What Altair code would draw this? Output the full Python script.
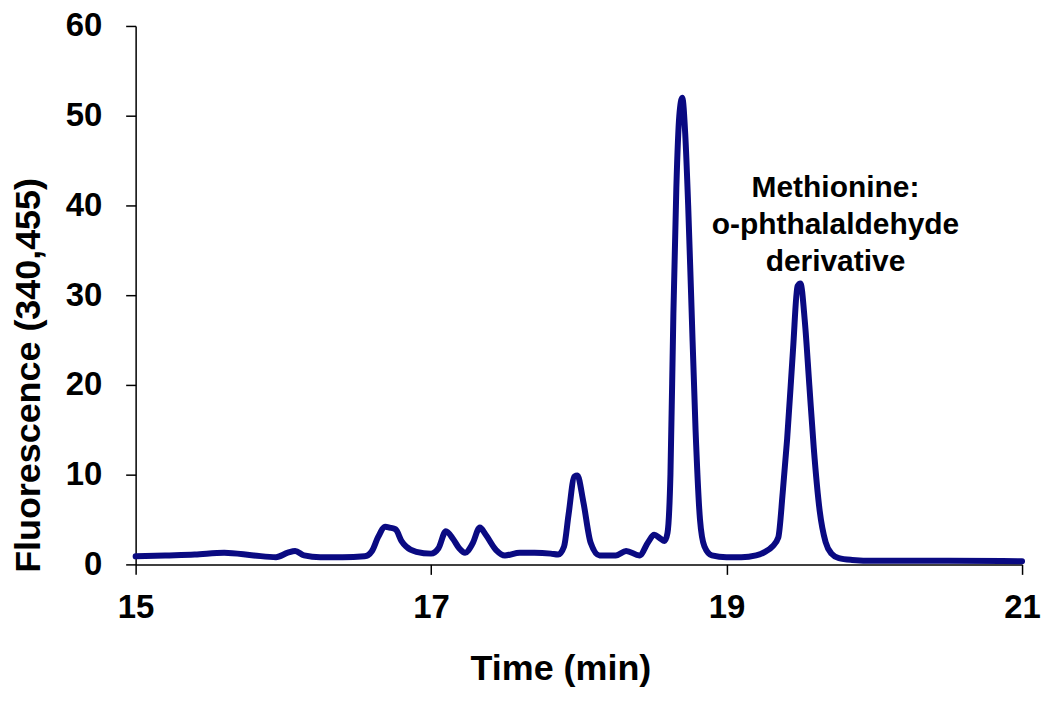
import altair as alt
import pandas as pd

time_min = [15.00, 15.20, 15.40, 15.60, 15.80, 15.95, 16.03, 16.08, 16.14, 16.25,
            16.40, 16.55, 16.60, 16.64, 16.69, 16.72, 16.76, 16.80, 16.83, 16.90,
            17.00, 17.05, 17.10, 17.15, 17.19, 17.23, 17.28, 17.33, 17.37, 17.44,
            17.50, 17.60, 17.70, 17.81, 17.86, 17.90, 17.93, 17.97, 17.99, 18.03,
            18.08, 18.14, 18.25, 18.32, 18.41, 18.47, 18.51, 18.55, 18.58, 18.60,
            18.62, 18.64, 18.66, 18.68, 18.70, 18.72, 18.74, 18.76, 18.79, 18.82,
            18.85, 18.90, 19.00, 19.10, 19.20, 19.26, 19.31, 19.35, 19.38, 19.41,
            19.45, 19.48, 19.50, 19.53, 19.56, 19.59, 19.63, 19.67, 19.71, 19.76,
            19.85, 20.00, 20.50, 21.00]

fluorescence = [0.9, 1.0, 1.1, 1.3, 1.0, 0.8, 1.3, 1.5, 1.0, 0.8,
                0.8, 0.9, 1.5, 3.0, 4.2, 4.1, 3.9, 2.6, 2.0, 1.4,
                1.2, 1.8, 3.7, 2.8, 1.8, 1.3, 2.3, 4.1, 3.3, 1.6,
                1.0, 1.3, 1.3, 1.2, 1.1, 2.0, 5.5, 9.8, 9.9, 7.0,
                2.4, 1.0, 1.0, 1.5, 1.0, 2.5, 3.3, 2.9, 2.6, 3.5,
                10.0, 28.0, 42.0, 50.0, 52.0, 48.0, 40.0, 30.0, 15.0, 5.0,
                2.0, 1.0, 0.8, 0.8, 1.0, 1.4, 2.0, 3.0, 8.0, 14.0,
                24.0, 31.0, 31.3, 27.0, 20.0, 13.0, 6.0, 2.5, 1.2, 0.7,
                0.5, 0.4, 0.4, 0.35]

x_ticks = [15, 17, 19, 21]
y_ticks = [0, 10, 20, 30, 40, 50, 60]

annot_lines = ["Methionine:", "o-phthalaldehyde", "derivative"]
annot_x = [19.737, 19.737, 19.737]
annot_y = [40.9, 36.8, 32.7]

df = pd.DataFrame({"time": time_min, "fl": fluorescence})
ann = pd.DataFrame({"label": annot_lines, "time": annot_x, "fl": annot_y})

FONT = "Liberation Sans"

x_enc = alt.X(
    "time:Q",
    scale=alt.Scale(domain=[15, 21], nice=False, zero=False),
    axis=alt.Axis(
        values=x_ticks, format="d", grid=False,
        title="Time (min)", titleFont=FONT, titleFontSize=36, titleFontWeight="bold",
        titleColor="black", titleX=426, titleY=115, titleBaseline="alphabetic",
        titleAlign="center",
        labelFont=FONT, labelFontSize=33, labelFontWeight="bold", labelColor="black",
        labelPadding=17, tickSize=10, tickColor="black", tickWidth=1.5,
        domainColor="black", domainWidth=1.5, labelFlush=False,
    ),
)
y_enc = alt.Y(
    "fl:Q",
    scale=alt.Scale(domain=[0, 60], nice=False),
    axis=alt.Axis(
        values=y_ticks, grid=False,
        title="Fluorescence (340,455)", titleFont=FONT, titleFontSize=36,
        titleFontWeight="bold", titleColor="black", titleX=-107, titleY=350,
        titleBaseline="middle", titleAlign="center", titleAngle=270,
        labelFont=FONT, labelFontSize=33, labelFontWeight="bold", labelColor="black",
        labelPadding=24, tickSize=10, tickColor="black", tickWidth=1.5,
        domainColor="black", domainWidth=1.5, labelFlush=False,
    ),
)

line = alt.Chart(df).mark_line(
    color="#0a0a82", strokeWidth=6, interpolate="monotone", strokeJoin="round", strokeCap="round"
).encode(x=x_enc, y=y_enc)

text = alt.Chart(ann).mark_text(
    font=FONT, fontSize=30, fontWeight="bold", color="black",
    align="center", baseline="alphabetic"
).encode(x=alt.X("time:Q"), y=alt.Y("fl:Q"), text="label:N")

chart = alt.layer(line, text).properties(
    width=889, height=540,
    background="white",
    autosize=alt.AutoSizeParams(type="none"),
    padding={"left": 128, "top": 17, "right": 20, "bottom": 140},
).configure_view(stroke=None, strokeWidth=0)

chart.save("out.html", embed_options={"renderer": "svg", "actions": False})
